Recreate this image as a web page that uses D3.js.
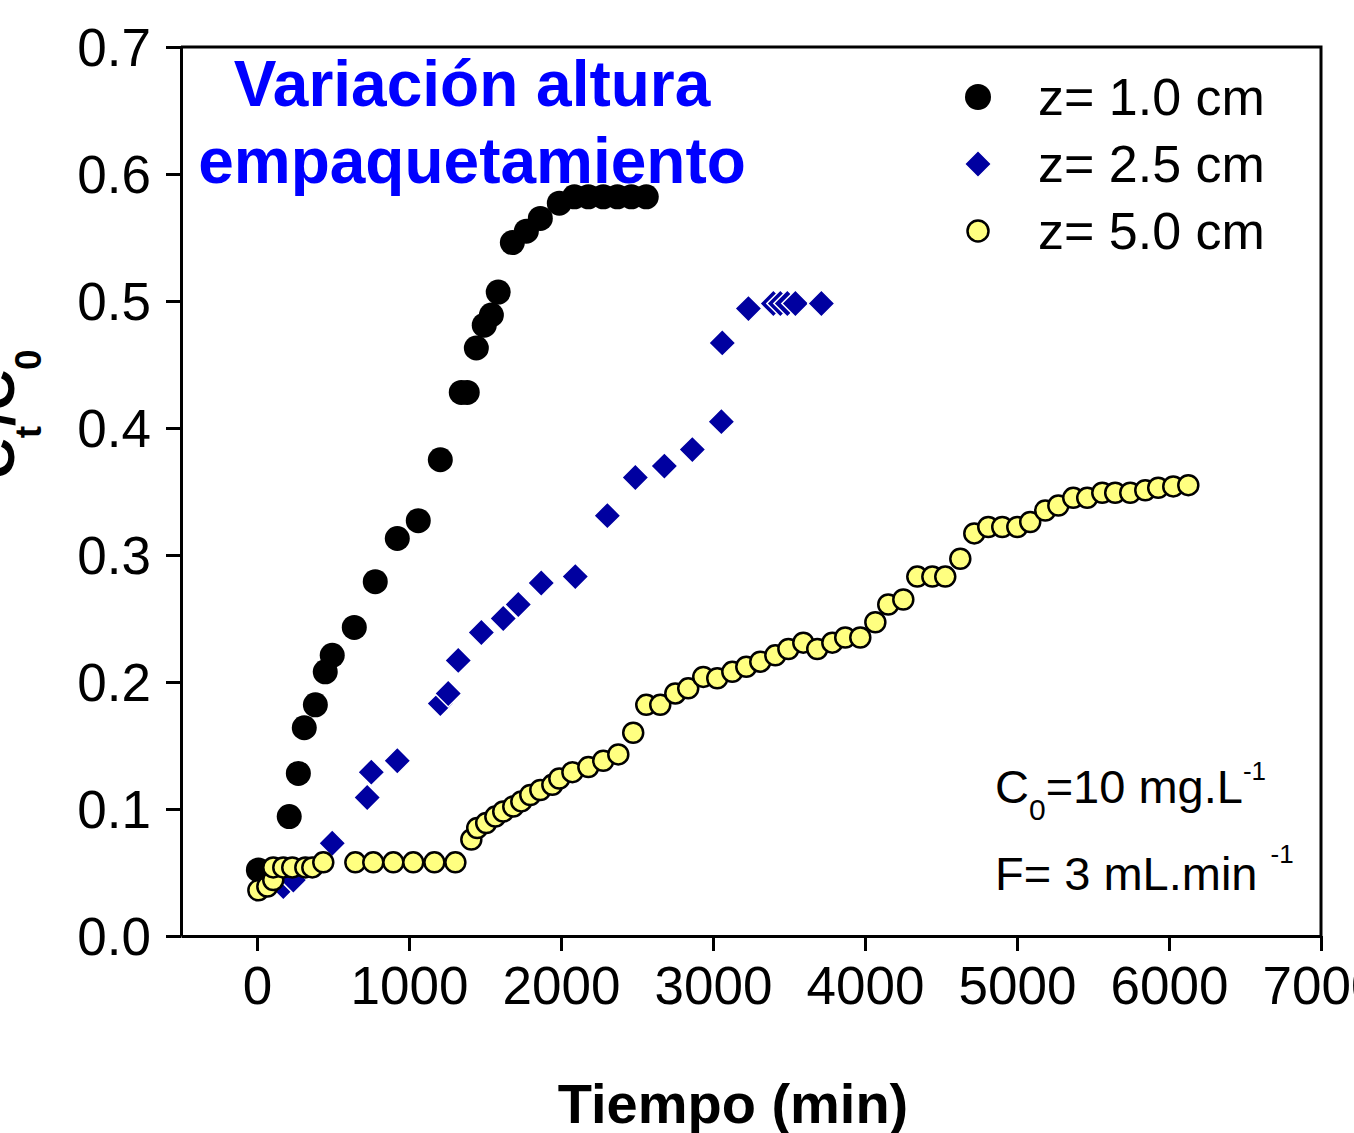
<!DOCTYPE html>
<html>
<head>
<meta charset="utf-8">
<script src="https://cdn.jsdelivr.net/npm/d3@7"></script>
<style>
  body { margin: 0; background: #fff; }
  svg { display: block; font-family: "Liberation Sans", Arial, sans-serif; }
</style>
</head>
<body>
<svg id="chart" width="1354" height="1133"></svg>
<script>
// data: tiempo (min) vs Ct/C0
var timeZ10 = [9, 212, 272, 311, 384, 449, 495, 640, 778, 923, 1061, 1206, 1344, 1383, 1443, 1495, 1542, 1587, 1680, 1772, 1864, 1989, 2088, 2180, 2278, 2371, 2463, 2561];
var ratioZ10 = [0.052, 0.094, 0.128, 0.164, 0.182, 0.208, 0.221, 0.243, 0.279, 0.313, 0.327, 0.375, 0.428, 0.428, 0.463, 0.481, 0.489, 0.507, 0.546, 0.555, 0.565, 0.577, 0.582, 0.582, 0.582, 0.582, 0.582, 0.582];

var timeZ25 = [173, 239, 495, 725, 752, 923, 1206, 1258, 1324, 1476, 1620, 1719, 1870, 2094, 2305, 2489, 2680, 2864, 3055, 3061, 3233, 3397, 3443, 3489, 3542, 3713];
var ratioZ25 = [0.039, 0.044, 0.073, 0.109, 0.129, 0.138, 0.183, 0.191, 0.217, 0.239, 0.250, 0.261, 0.278, 0.283, 0.331, 0.361, 0.370, 0.383, 0.405, 0.467, 0.494, 0.498, 0.498, 0.498, 0.498, 0.498];

var timeZ50 = [9, 68, 107, 107, 173, 232, 318, 364, 436, 647, 765, 897, 1028, 1167, 1305, 1410, 1449, 1508, 1568, 1620, 1686, 1739, 1798, 1864, 1943, 1989, 2075, 2180, 2278, 2377, 2475, 2561, 2653, 2752, 2837, 2936, 3028, 3127, 3219, 3311, 3410, 3496, 3594, 3686, 3785, 3870, 3969, 4068, 4153, 4252, 4344, 4443, 4528, 4627, 4719, 4811, 4903, 5002, 5087, 5186, 5272, 5370, 5462, 5561, 5646, 5745, 5844, 5929, 6028, 6127];
var ratioZ50 = [0.036, 0.039, 0.044, 0.054, 0.054, 0.054, 0.054, 0.054, 0.058, 0.058, 0.058, 0.058, 0.058, 0.058, 0.058, 0.076, 0.085, 0.089, 0.094, 0.098, 0.102, 0.106, 0.111, 0.115, 0.119, 0.124, 0.129, 0.133, 0.138, 0.143, 0.160, 0.182, 0.182, 0.191, 0.195, 0.204, 0.203, 0.208, 0.212, 0.216, 0.221, 0.226, 0.231, 0.226, 0.231, 0.235, 0.235, 0.247, 0.261, 0.265, 0.283, 0.283, 0.283, 0.297, 0.317, 0.322, 0.322, 0.322, 0.326, 0.335, 0.339, 0.345, 0.345, 0.349, 0.349, 0.349, 0.351, 0.353, 0.354, 0.355];

var seriesNames = ["z= 1.0 cm", "z= 2.5 cm", "z= 5.0 cm"];
var xTicks = [0, 1000, 2000, 3000, 4000, 5000, 6000, 7000];
var yTicks = [0.0, 0.1, 0.2, 0.3, 0.4, 0.5, 0.6, 0.7];

var svg = d3.select("#chart");
var plotL = 181, plotR = 1321, plotT = 47, plotB = 936;

var x = d3.scaleLinear().domain([-500, 7000]).range([plotL, plotR]);
var y = d3.scaleLinear().domain([0, 0.7]).range([plotB, plotT]);

function pairs(xs, ys) {
  return xs.map(function(d, i) { return [d, ys[i]]; });
}

// frame (top + right)
svg.append("path")
  .attr("d", "M" + plotL + "," + plotT + "H" + plotR + "V" + plotB)
  .attr("fill", "none")
  .attr("stroke", "#000")
  .attr("stroke-width", 3);

var yAxis = svg.append("g")
  .attr("transform", "translate(" + plotL + ",0)")
  .call(d3.axisLeft(y).tickValues(yTicks).tickFormat(d3.format(".1f"))
    .tickSize(15).tickSizeOuter(0).tickPadding(15));

var xAxis = svg.append("g")
  .attr("transform", "translate(0," + plotB + ")")
  .call(d3.axisBottom(x).tickValues(xTicks).tickFormat(d3.format("d"))
    .tickSize(15).tickSizeOuter(0).tickPadding(15));

[xAxis, yAxis].forEach(function(a) {
  a.selectAll("path, line").attr("stroke", "#000").attr("stroke-width", 3);
  a.selectAll("text")
    .attr("fill", "#000")
    .style("font-family", "'Liberation Sans', Arial, sans-serif")
    .style("font-size", "53px");
});
yAxis.selectAll("text").attr("dy", "0.34em");

// axis titles
svg.append("text")
  .attr("x", 733)
  .attr("y", 1123)
  .attr("text-anchor", "middle")
  .attr("font-size", 56)
  .attr("font-weight", "bold")
  .text("Tiempo (min)");

var yl = svg.append("text")
  .attr("transform", "translate(14,414) rotate(-90)")
  .attr("text-anchor", "middle")
  .attr("font-size", 56)
  .attr("font-weight", "bold");
yl.append("tspan").text("C");
yl.append("tspan").attr("font-size", 37).attr("dy", 27).text("t");
yl.append("tspan").attr("dy", -27).text("/C");
yl.append("tspan").attr("font-size", 37).attr("dy", 27).text("0");

// title
svg.append("text")
  .attr("x", 472).attr("y", 106)
  .attr("text-anchor", "middle")
  .attr("fill", "#0000ff")
  .attr("font-size", 64)
  .attr("font-weight", "bold")
  .text("Variación altura");
svg.append("text")
  .attr("x", 472).attr("y", 183)
  .attr("text-anchor", "middle")
  .attr("fill", "#0000ff")
  .attr("font-size", 64)
  .attr("font-weight", "bold")
  .text("empaquetamiento");

// markers
var diamond = d3.symbol().type(d3.symbolSquare).size(365);

svg.append("g").selectAll("circle")
  .data(pairs(timeZ10, ratioZ10))
  .enter().append("circle")
  .attr("cx", function(d) { return x(d[0]); })
  .attr("cy", function(d) { return y(d[1]); })
  .attr("r", 12.5)
  .attr("fill", "#000");

svg.append("g").selectAll("path")
  .data(pairs(timeZ25, ratioZ25))
  .enter().append("path")
  .attr("d", diamond)
  .attr("transform", function(d) { return "translate(" + x(d[0]) + "," + y(d[1]) + ") rotate(45)"; })
  .attr("fill", "#0000a0")
  .attr("stroke", "#fff")
  .attr("stroke-width", 1.5);

svg.append("g").selectAll("circle")
  .data(pairs(timeZ50, ratioZ50))
  .enter().append("circle")
  .attr("cx", function(d) { return x(d[0]); })
  .attr("cy", function(d) { return y(d[1]); })
  .attr("r", 10)
  .attr("fill", "#ffff80")
  .attr("stroke", "#000")
  .attr("stroke-width", 2.5);

// legend
var legend = svg.append("g").attr("transform", "translate(978,97)");
legend.append("circle").attr("cx", 0).attr("cy", 0).attr("r", 13).attr("fill", "#000");
legend.append("path").attr("d", diamond).attr("transform", "translate(0,67) rotate(45)")
  .attr("fill", "#0000a0").attr("stroke", "#fff").attr("stroke-width", 1.5);
legend.append("circle").attr("cx", 0).attr("cy", 134).attr("r", 10.5)
  .attr("fill", "#ffff80").attr("stroke", "#000").attr("stroke-width", 2.5);
legend.selectAll("text")
  .data(seriesNames)
  .enter().append("text")
  .attr("x", 60)
  .attr("y", function(d, i) { return 18 + i * 67; })
  .attr("font-size", 52)
  .text(function(d) { return d; });

// conditions
var c0 = svg.append("text").attr("x", 995).attr("y", 803).attr("font-size", 47);
c0.append("tspan").text("C");
c0.append("tspan").attr("font-size", 30).attr("dy", 17).text("0");
c0.append("tspan").attr("dy", -17).text("=10 mg.L");
c0.append("tspan").attr("font-size", 26).attr("dy", -23).text("-1");

var fl = svg.append("text").attr("x", 995).attr("y", 890).attr("font-size", 47);
fl.append("tspan").text("F= 3 mL.min ");
fl.append("tspan").attr("font-size", 26).attr("dy", -27).text("-1");
</script>
</body>
</html>
